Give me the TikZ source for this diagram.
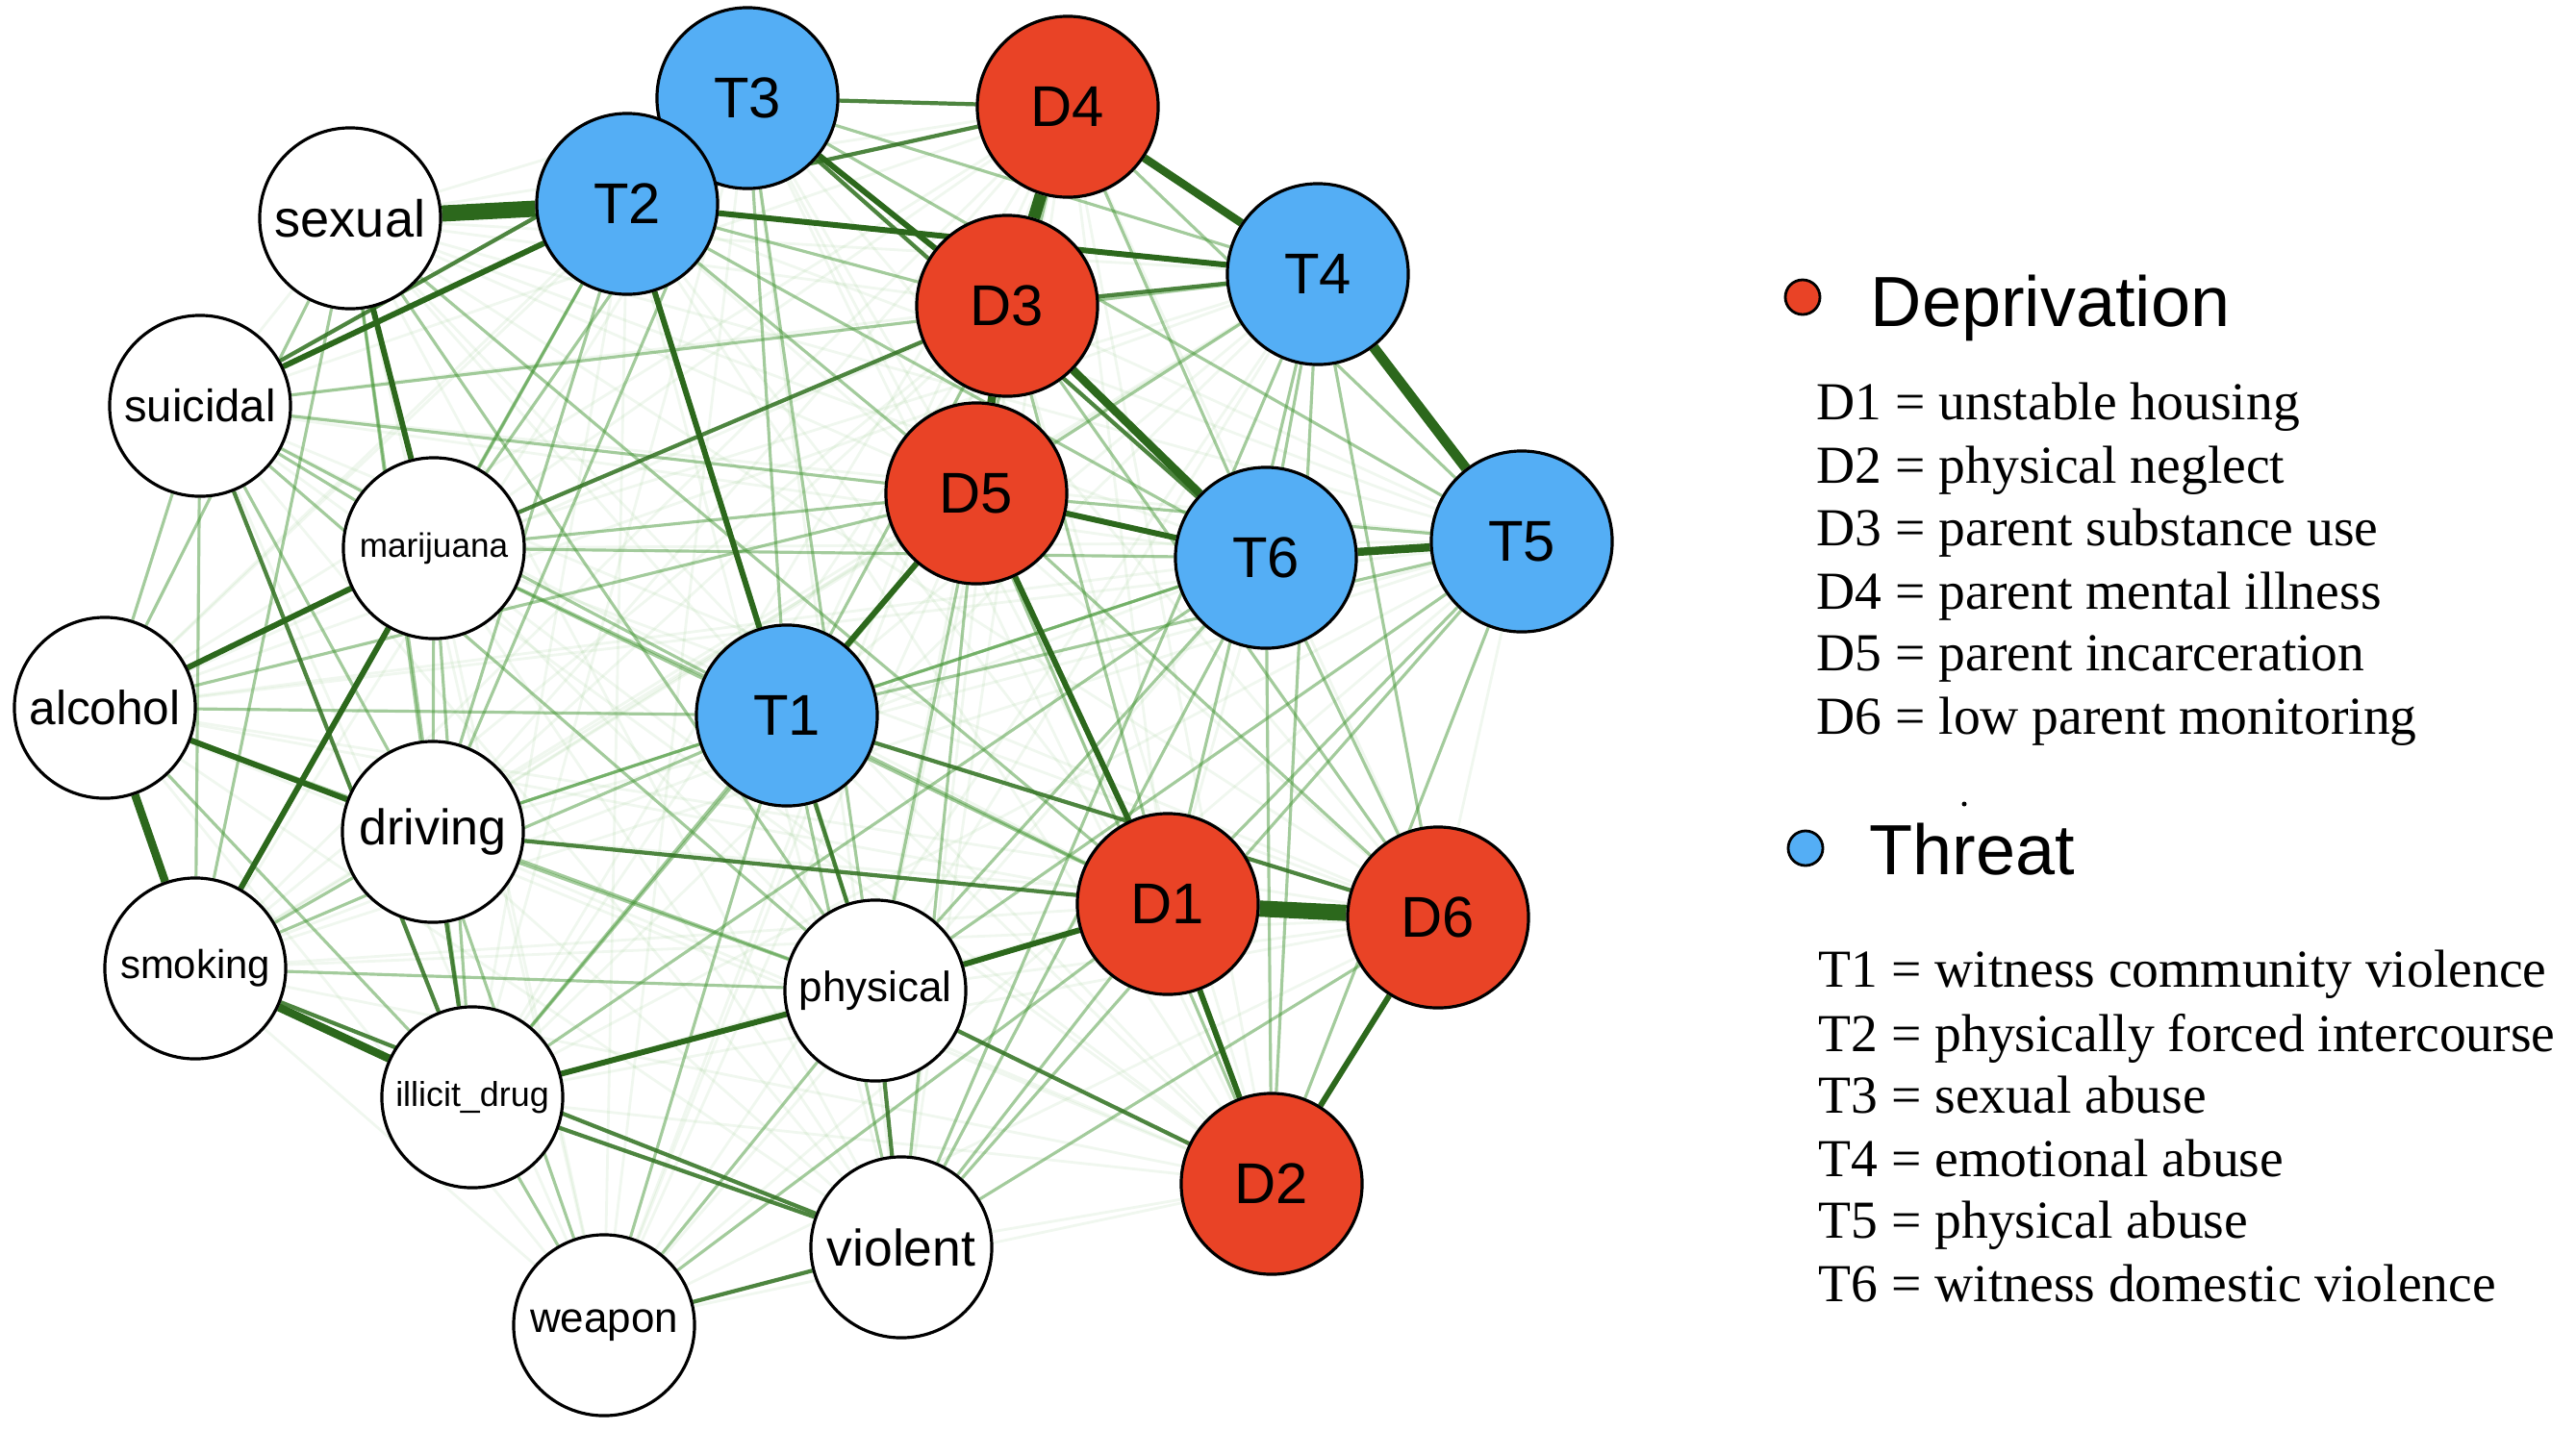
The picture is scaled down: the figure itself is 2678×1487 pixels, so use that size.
\documentclass[tikz,border=0pt]{standalone}
\usepackage{fontspec}
\setmainfont{Liberation Serif}
\setsansfont{Liberation Sans}
\pgfdeclarelayer{bg}
\pgfsetlayers{bg,main}
\definecolor{dkg}{RGB}{44,104,28}
\definecolor{mdg}{RGB}{70,150,55}
\definecolor{ltg}{RGB}{110,180,95}
\definecolor{depred}{RGB}{233,67,38}
\definecolor{thrblue}{RGB}{84,174,245}
\tikzset{
  nd/.style={circle, draw=black, line width=0.9pt, minimum size=1.88cm, inner sep=0pt, text=black},
  dnode/.style={nd, fill=depred, font=\sffamily\fontsize{17}{17}\selectfont},
  tnode/.style={nd, fill=thrblue, font=\sffamily\fontsize{17}{17}\selectfont},
  bnode/.style={nd, fill=white},
  faint/.style={draw=ltg, line width=0.8pt, opacity=0.10},
  light/.style={draw=mdg, line width=0.9pt, opacity=0.45},
  medium/.style={draw=dkg!80!mdg, line width=1.2pt, opacity=0.85},
  strongA/.style={draw=dkg, line width=4.8pt},
  strongB/.style={draw=dkg, line width=3.6pt},
  strongC/.style={draw=dkg, line width=3pt},
  strongD/.style={draw=dkg, line width=2.4pt},
  strongE/.style={draw=dkg, line width=1.7pt},
  legdot/.style={circle, draw=black, line width=0.8pt, minimum size=0.36cm, inner sep=0pt},
  legtitle/.style={anchor=base west, inner sep=0pt, font=\sffamily\fontsize{21}{21}\selectfont},
  legline/.style={anchor=base west, inner sep=0pt, font=\fontsize{15.8}{15.8}\selectfont},
}
\begin{document}
\begin{tikzpicture}[x=0.01cm, y=-0.01cm]
\useasboundingbox (0,0) rectangle (2678,1487);
% nodes
\node[tnode] (T3) at (777,102) {T3};
\node[dnode] (D4) at (1110,111) {D4};
\node[tnode] (T2) at (652,212) {T2};
\node[bnode, font=\sffamily\fontsize{15.4}{15.4}\selectfont] (sex) at (364,227) {sexual};
\node[dnode] (D3) at (1047,318) {D3};
\node[tnode] (T4) at (1370,285) {T4};
\node[bnode, font=\sffamily\fontsize{13.4}{13.4}\selectfont] (sui) at (208,422) {suicidal};
\node[bnode, font=\sffamily\fontsize{10}{10}\selectfont] (mar) at (451,570) {marijuana};
\node[dnode] (D5) at (1015,513) {D5};
\node[tnode] (T6) at (1316,580) {T6};
\node[tnode] (T5) at (1582,563) {T5};
\node[bnode, font=\sffamily\fontsize{14.1}{14.1}\selectfont] (alc) at (109,736) {alcohol};
\node[tnode] (T1) at (818,744) {T1};
\node[bnode, font=\sffamily\fontsize{14.8}{14.8}\selectfont] (drv) at (450,865) {driving};
\node[dnode] (D1) at (1214,940) {D1};
\node[dnode] (D6) at (1495,954) {D6};
\node[bnode, font=\sffamily\fontsize{11.9}{11.9}\selectfont] (smk) at (203,1007) {smoking};
\node[bnode, font=\sffamily\fontsize{12.5}{12.5}\selectfont] (phy) at (910,1030) {physical};
\node[bnode, font=\sffamily\fontsize{10.2}{10.2}\selectfont] (ill) at (491,1141) {illicit\_drug};
\node[dnode] (D2) at (1322,1231) {D2};
\node[bnode, font=\sffamily\fontsize{15.2}{15.2}\selectfont] (vio) at (937,1297) {violent};
\node[bnode, font=\sffamily\fontsize{12.5}{12.5}\selectfont] (wea) at (628,1378) {weapon};
% edges
\begin{pgfonlayer}{bg}
\foreach \a [count=\i] in {T1,T2,T3,T4,T5,T6,D1,D2,D3,D4,D5,D6,sex,sui,mar,alc,drv,smk,ill,phy,vio,wea}{
  \foreach \b [count=\j] in {T1,T2,T3,T4,T5,T6,D1,D2,D3,D4,D5,D6,sex,sui,mar,alc,drv,smk,ill,phy,vio,wea}{
    \ifnum\i<\j \draw[faint] (\a) -- (\b); \fi
  }
}
\foreach \a/\b in {sex/alc, sui/alc, sex/smk, sui/mar, mar/T1, mar/T6, mar/D1, smk/phy, T1/D1, T1/T6, T1/D3, T1/vio, phy/D5, phy/T6, vio/D5, vio/D6, vio/T4, wea/ill, wea/drv, wea/phy, ill/T6, ill/D5, alc/T1, alc/phy, alc/D5, drv/T6, drv/T3, smk/T2, sui/D5, sui/T1, sex/D1, sex/phy, D1/T4, D1/T5, D2/T5, D2/T4, D6/T4, D6/T6, D6/D5, D1/vio, D4/T6, D4/T5, T4/T6, T4/D5, T5/vio, T5/phy, T2/mar, T2/drv, T2/phy, T2/D5, T2/T6, T3/T1, T3/phy, T3/mar, T3/T5, D4/D5, D3/D1, sui/T4, mar/D5, sex/drv, sui/drv, sui/smk, alc/ill, drv/smk, mar/ill, mar/drv, sex/ill, sui/phy, ill/T1, drv/T1, drv/phy, smk/T1, D2/D5, D2/T6, D6/D3, T5/D5, T5/T1, wea/D1, wea/T1, vio/T6, T3/T4, T2/D3}
  \draw[light] (\a) -- (\b);
\foreach \a/\b in {T1/D6, drv/D1, phy/D2, T3/D4, T2/D4, sui/T3, sui/ill, ill/vio, wea/vio, phy/vio, T1/phy, drv/ill, smk/vio, T3/T6, D3/T4, mar/D3}
  \draw[medium] (\a) -- (\b);
\foreach \a/\b in {T2/T4, alc/mar, alc/drv, smk/mar, T3/D3, D5/D1, D5/T6, T2/T1, sui/T2, sex/mar, ill/phy, D1/D2, D2/D6, T1/D5, phy/D1}
  \draw[strongE] (\a) -- (\b);
\foreach \a/\b in {D3/D5, T6/T5, D4/T4, alc/smk, smk/ill, D3/T6}
  \draw[strongD] (\a) -- (\b);
\draw[strongC] (T4) -- (T5);
\draw[strongB] (D4) -- (D3);
\draw[strongA] (sex) -- (T2);
\draw[strongA] (D1) -- (D6);
\end{pgfonlayer}
% legend
\node[legdot, fill=depred] (dotD) at (1874,309) {};
\node[legtitle] (titD) at (1944,339) {Deprivation};
\node[legline] (lD1) at (1888,436) {D1 = unstable housing};
\node[legline] (lD2) at (1888,502) {D2 = physical neglect};
\node[legline] (lD3) at (1888,567) {D3 = parent substance use};
\node[legline] (lD4) at (1888,633) {D4 = parent mental illness};
\node[legline] (lD5) at (1888,697) {D5 = parent incarceration};
\node[legline] (lD6) at (1888,763) {D6 = low parent monitoring};
\node[circle, fill=black, minimum size=0.05cm, inner sep=0pt] (tiny) at (2042,836) {};
\node[legdot, fill=thrblue] (dotT) at (1877,882) {};
\node[legtitle] (titT) at (1943,909) {Threat};
\node[legline] (lT1) at (1890,1026) {T1 = witness community violence};
\node[legline] (lT2) at (1890,1093) {T2 = physically forced intercourse};
\node[legline] (lT3) at (1890,1157) {T3 = sexual abuse};
\node[legline] (lT4) at (1890,1223) {T4 = emotional abuse};
\node[legline] (lT5) at (1890,1287) {T5 = physical abuse};
\node[legline] (lT6) at (1890,1353) {T6 = witness domestic violence};
\end{tikzpicture}
\end{document}
